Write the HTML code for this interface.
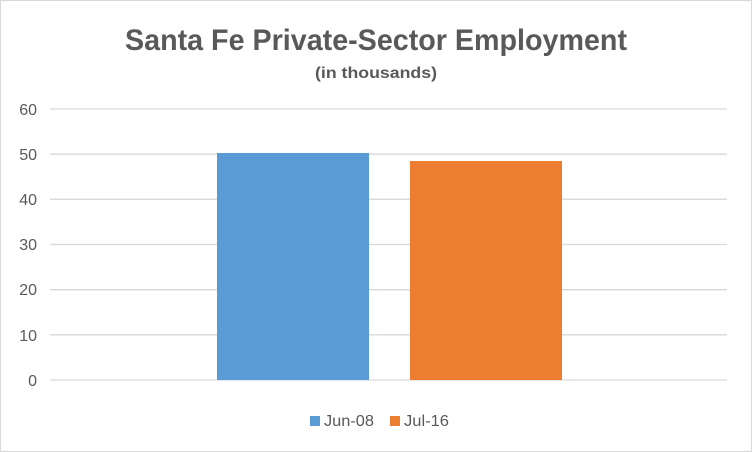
<!DOCTYPE html>
<html><head><style>
body{margin:0;background:#fff}
svg{display:block}
text{font-family:"Liberation Sans",sans-serif;fill:#595959}
</style></head><body>
<svg width="752" height="452" viewBox="0 0 752 452">
<rect x="0.5" y="0.5" width="751" height="451" fill="#fff" stroke="#d9d9d9"/>
<text x="376" y="50" text-anchor="middle" font-size="30" font-weight="bold" textLength="502" lengthAdjust="spacingAndGlyphs">Santa Fe Private-Sector Employment</text>
<text x="376" y="78" text-anchor="middle" font-size="16" font-weight="bold" textLength="122" lengthAdjust="spacingAndGlyphs">(in thousands)</text>
<g stroke="#d9d9d9" stroke-width="1.3">
<line x1="50" x2="727" y1="109" y2="109"/>
<line x1="50" x2="727" y1="154.2" y2="154.2"/>
<line x1="50" x2="727" y1="199.3" y2="199.3"/>
<line x1="50" x2="727" y1="244.5" y2="244.5"/>
<line x1="50" x2="727" y1="289.7" y2="289.7"/>
<line x1="50" x2="727" y1="334.8" y2="334.8"/>
<line x1="50" x2="727" y1="380" y2="380"/>
</g>
<g font-size="16" text-anchor="end">
<text x="37" y="115">60</text>
<text x="37" y="160">50</text>
<text x="37" y="205">40</text>
<text x="37" y="250">30</text>
<text x="37" y="295">20</text>
<text x="37" y="341">10</text>
<text x="37" y="386">0</text>
</g>
<rect x="217" y="153" width="152" height="227" fill="#5b9bd5"/>
<rect x="410" y="161" width="152" height="219" fill="#ed7d31"/>
<rect x="310" y="416" width="10" height="10" fill="#5b9bd5"/>
<text x="324" y="426" font-size="16" textLength="50" lengthAdjust="spacingAndGlyphs">Jun-08</text>
<rect x="390" y="416" width="10" height="10" fill="#ed7d31"/>
<text x="404" y="426" font-size="16" textLength="45" lengthAdjust="spacingAndGlyphs">Jul-16</text>
</svg>
</body></html>
